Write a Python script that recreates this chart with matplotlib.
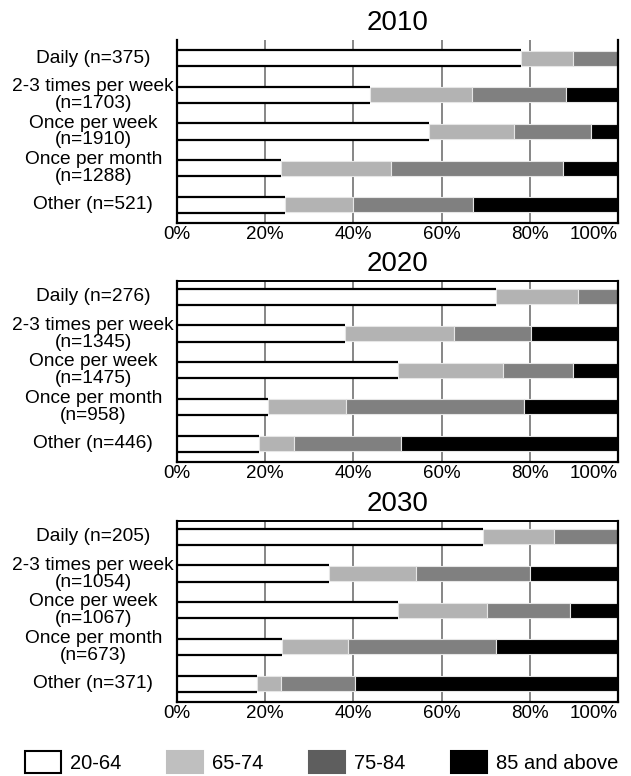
import matplotlib
matplotlib.use("Agg")
import matplotlib.pyplot as plt
from matplotlib.patches import Patch
from matplotlib.transforms import blended_transform_factory
import numpy as np

plt.rcParams['font.family'] = ['Liberation Sans', 'DejaVu Sans']

years = ["2010", "2020", "2030"]
frequencies = ["Daily", "2-3 times per week", "Once per week", "Once per month", "Other"]
counts = {
    "2010": [375, 1703, 1910, 1288, 521],
    "2020": [276, 1345, 1475, 958, 446],
    "2030": [205, 1054, 1067, 673, 371],
}
age_groups = ["20-64", "65-74", "75-84", "85 and above"]

# percentage shares per age group (rows follow `frequencies`)
share_20_64 = {
    "2010": [78.0, 43.7, 57.2, 23.6, 24.5],
    "2020": [72.3, 38.0, 50.1, 20.7, 18.6],
    "2030": [69.4, 34.4, 50.0, 23.9, 18.2],
}
share_65_74 = {
    "2010": [11.7, 23.1, 19.3, 24.9, 15.3],
    "2020": [18.6, 24.8, 23.8, 17.7, 8.0],
    "2030": [16.1, 19.7, 20.4, 14.9, 5.4],
}
share_75_84 = {
    "2010": [10.3, 21.5, 17.3, 39.1, 27.3],
    "2020": [9.1, 17.5, 15.9, 40.3, 24.3],
    "2030": [14.5, 26.0, 18.7, 33.6, 16.7],
}
share_85_plus = {
    "2010": [0.0, 11.7, 6.2, 12.4, 32.9],
    "2020": [0.0, 19.7, 10.2, 21.3, 49.1],
    "2030": [0.0, 19.9, 10.9, 27.6, 59.7],
}
xticks = [0, 20, 40, 60, 80, 100]
xticklabels = ["0%", "20%", "40%", "60%", "80%", "100%"]

bar_colors = ["#ffffff", "#b3b3b3", "#808080", "#000000"]
legend_colors = ["#ffffff", "#bfbfbf", "#5e5e5e", "#000000"]

W, H = 631, 776
fig = plt.figure(figsize=(W / 100, H / 100), dpi=100)

# (top px, bottom px, ylim top)
panel_px = {"2010": (40, 223, -0.5), "2020": (281, 462, -0.43), "2030": (521, 702, -0.43)}
left_px, right_px = 177, 618
bar_h = 0.44

for yr in years:
    top, bot, ytop = panel_px[yr]
    ax = fig.add_axes([left_px / W, 1 - bot / H, (right_px - left_px) / W, (bot - top) / H])
    y = np.arange(len(frequencies))
    segs = [share_20_64[yr], share_65_74[yr], share_75_84[yr], share_85_plus[yr]]
    left = np.zeros(len(frequencies))
    for i, vals in enumerate(segs):
        vals = np.array(vals)
        if i == 0:
            ax.barh(y, vals, left=left, height=bar_h, color=bar_colors[i],
                    edgecolor='none', zorder=2)
            ax.hlines(y - bar_h / 2, left, left + vals, color='black', lw=1.6, zorder=3)
            ax.hlines(y + bar_h / 2, left, left + vals, color='black', lw=1.6, zorder=3)
        else:
            ax.barh(y, vals, left=left, height=bar_h * 0.92, color=bar_colors[i],
                    edgecolor='#e6e6e6', linewidth=0.8, zorder=2)
        left = left + vals

    ax.set_xlim(0, 100)
    ax.set_ylim(4.5, ytop)
    ax.set_axisbelow(True)
    ax.set_xticks(xticks)
    ax.set_xticklabels(xticklabels, fontsize=13.5)
    lbls = ax.get_xticklabels()
    lbls[-1].set_ha('right')
    lbls[-1].set_x(101)
    ax.tick_params(axis='x', length=0, pad=2)
    ax.set_yticks([])
    ax.xaxis.grid(True, color='#666666', lw=1.1)
    ax.yaxis.grid(False)
    for s in ['left', 'bottom', 'right']:
        ax.spines[s].set_linewidth(1.6)
        ax.spines[s].set_color('black')
    if yr == "2010":
        ax.spines['top'].set_visible(False)
    else:
        ax.spines['top'].set_linewidth(1.4)

    trans = blended_transform_factory(ax.transAxes, ax.transData)
    for yi, (f, n) in enumerate(zip(frequencies, counts[yr])):
        if f in ("Daily", "Other"):
            txt = f"{f} (n={n})"
        else:
            txt = f"{f}\n(n={n})"
        ax.text(-0.19, yi, txt, transform=trans, ha='center', va='center',
                multialignment='center', fontsize=13.8, linespacing=1.0)

    fig.text(((left_px + right_px) / 2) / W, 1 - (top - 17) / H, yr,
             ha='center', va='center', fontsize=20)

handles = [Patch(facecolor=c, edgecolor='black' if i == 0 else c, linewidth=1.5)
           for i, c in enumerate(legend_colors)]
fig.legend(handles, age_groups, loc='center left', bbox_to_anchor=(25 / W, 1 - 762 / H),
           ncol=4, frameon=False, fontsize=14.5, handlelength=1.8, handleheight=1.35,
           handletextpad=0.45, columnspacing=2.25, borderpad=0, borderaxespad=0)

fig.savefig("out.png", dpi=100)
